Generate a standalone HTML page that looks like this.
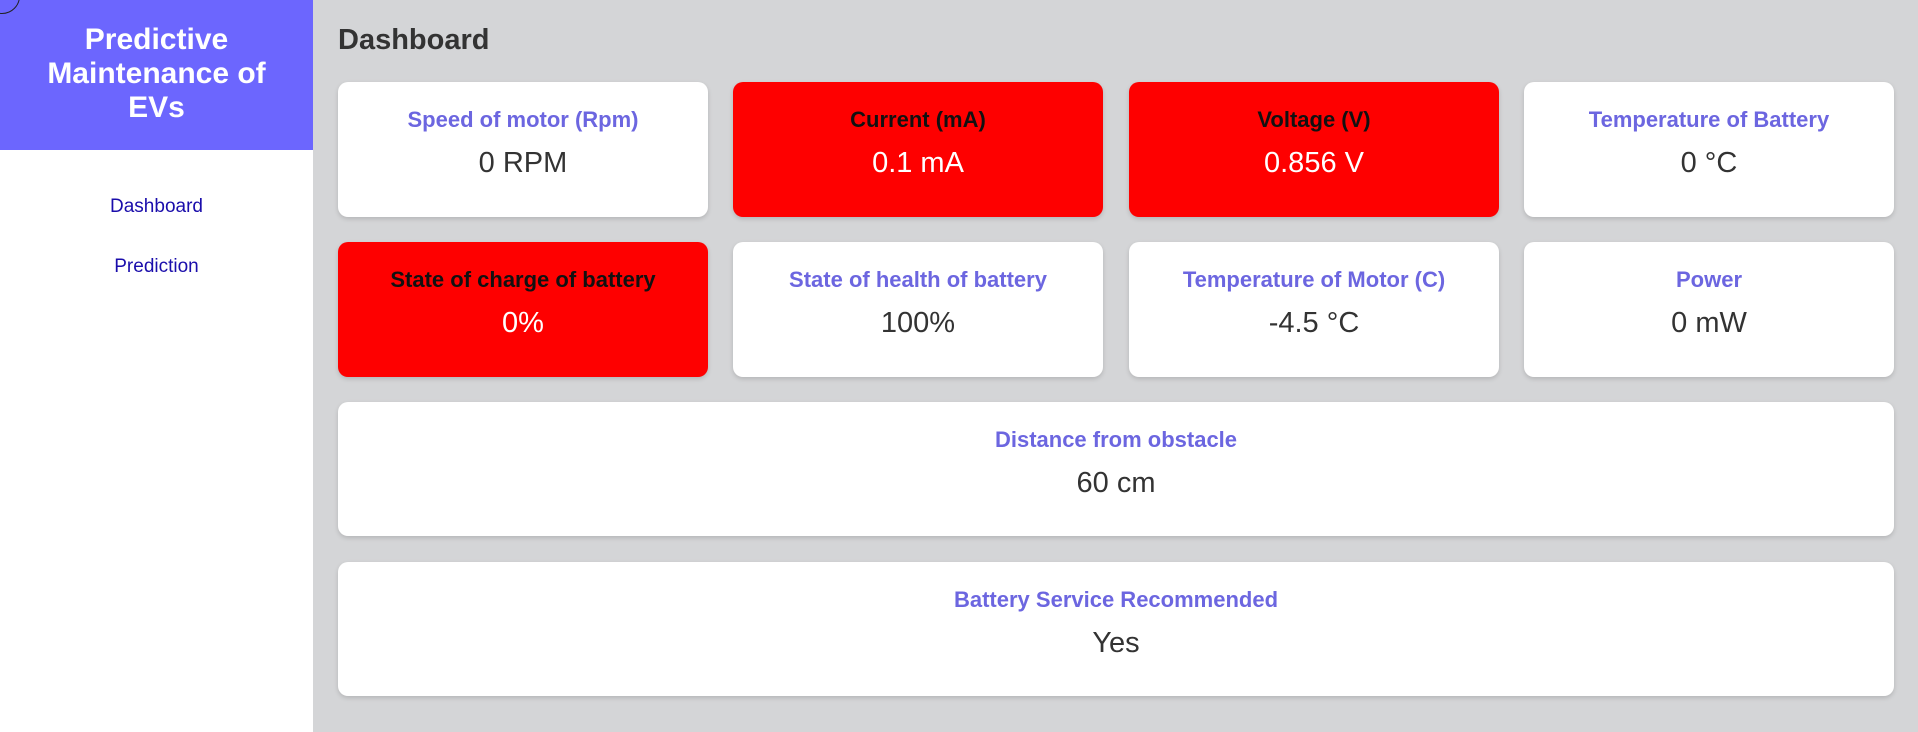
<!DOCTYPE html>
<html><head><style>
*{margin:0;padding:0;box-sizing:border-box}
body{width:1918px;height:732px;background:#d4d5d7;font-family:"Liberation Sans",Arial,sans-serif;position:relative;overflow:hidden}
.side{position:absolute;left:0;top:0;width:313px;height:732px;background:#fff}
.head{position:absolute;left:0;top:0;width:313px;height:150px;background:#6c66fe;color:#fff;font-weight:bold;font-size:30px;line-height:34px;text-align:center;padding-top:23px}
.circ{position:absolute;left:-16px;top:-22px;width:36px;height:36px;border:1.5px solid #222;border-radius:50%}
.nav{position:absolute;left:0;width:313px;text-align:center;color:#1a0dab;font-size:19px}
h1{position:absolute;left:338px;top:24px;font-size:29px;color:#333;font-weight:bold}
.card{position:absolute;background:#fff;border-radius:10px;box-shadow:0 2px 5px rgba(0,0,0,.15);text-align:center}
.card .l{position:absolute;left:0;right:0;top:25px;font-size:22px;font-weight:bold;color:#6c66e0}
.card .v{position:absolute;left:0;right:0;top:65px;font-size:29px;color:#333}
.red{background:#fe0000}
.red .l{color:#111}.red .v{color:#fff}
</style></head><body>
<div class="side">
<div class="head">Predictive<br>Maintenance of<br>EVs</div>
<div class="circ"></div>
<div class="nav" style="top:196px">Dashboard</div>
<div class="nav" style="top:256px">Prediction</div>
</div>
<h1>Dashboard</h1>
<div class="card" style="left:338px;top:82px;width:370px;height:135px"><div class="l">Speed of motor (Rpm)</div><div class="v">0 RPM</div></div>
<div class="card red" style="left:733px;top:82px;width:370px;height:135px"><div class="l">Current (mA)</div><div class="v">0.1 mA</div></div>
<div class="card red" style="left:1129px;top:82px;width:370px;height:135px"><div class="l">Voltage (V)</div><div class="v">0.856 V</div></div>
<div class="card" style="left:1524px;top:82px;width:370px;height:135px"><div class="l">Temperature of Battery</div><div class="v">0 °C</div></div>
<div class="card red" style="left:338px;top:242px;width:370px;height:135px"><div class="l">State of charge of battery</div><div class="v">0%</div></div>
<div class="card" style="left:733px;top:242px;width:370px;height:135px"><div class="l">State of health of battery</div><div class="v">100%</div></div>
<div class="card" style="left:1129px;top:242px;width:370px;height:135px"><div class="l">Temperature of Motor (C)</div><div class="v">-4.5 °C</div></div>
<div class="card" style="left:1524px;top:242px;width:370px;height:135px"><div class="l">Power</div><div class="v">0 mW</div></div>
<div class="card" style="left:338px;top:402px;width:1556px;height:134px"><div class="l">Distance from obstacle</div><div class="v">60 cm</div></div>
<div class="card" style="left:338px;top:562px;width:1556px;height:134px"><div class="l">Battery Service Recommended</div><div class="v">Yes</div></div>
</body></html>
